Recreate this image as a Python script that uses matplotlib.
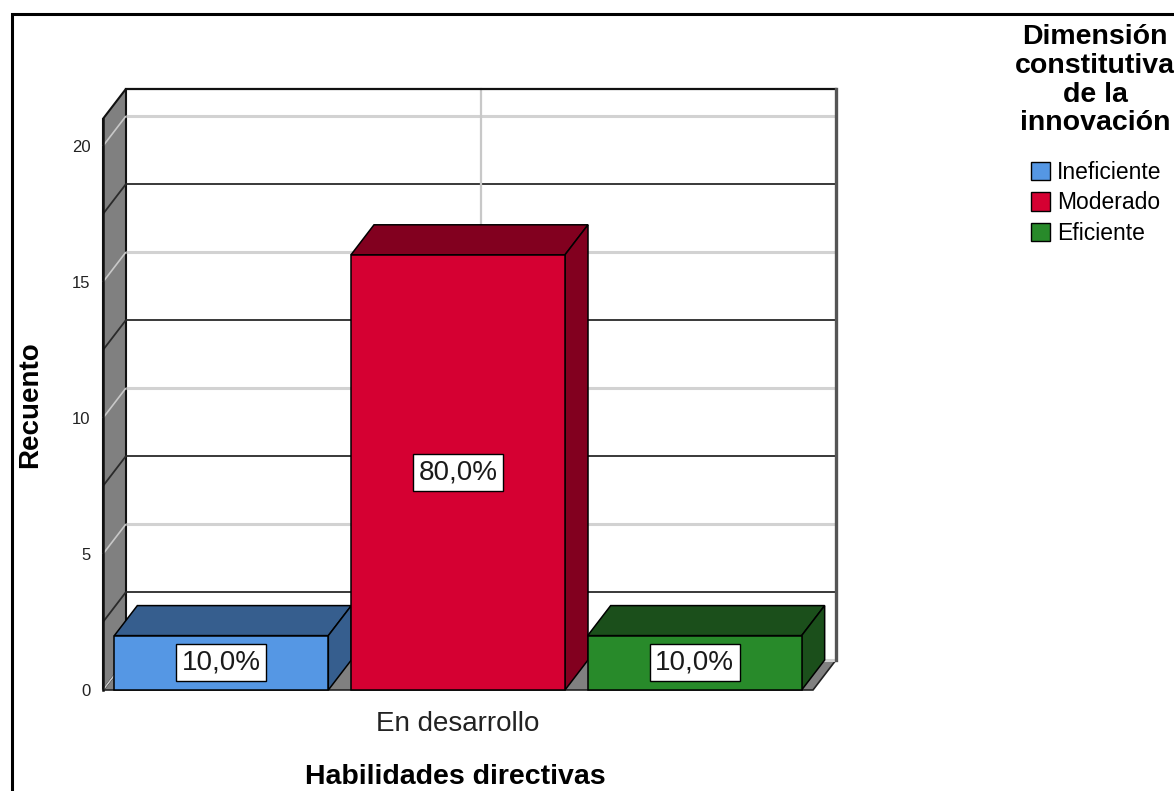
import matplotlib
matplotlib.use("Agg")
import matplotlib.pyplot as plt
from matplotlib.patches import Rectangle, Polygon, Patch

plt.rcParams['font.family'] = ['Liberation Sans', 'DejaVu Sans']

# datos del grafico
categoria = 'En desarrollo'
niveles = ['Ineficiente', 'Moderado', 'Eficiente']
recuentos = [2, 16, 2]
colores_frente = ['#5597E4', '#D50032', '#288A2A']
colores_sombra = ['#365E8E', '#82001F', '#1B4F1B']
ticks_y = [0, 5, 10, 15, 20]

W, H = 1174, 791
fig = plt.figure(figsize=(W / 100, H / 100), dpi=100)


def fx(px):
    return px / W


def fy(py):
    return (H - py) / H


# plano frontal del eje
ax = fig.add_axes([fx(103), fy(690), fx(813) - fx(103), fy(118.8) - fy(690)])
ymax = 21
ax.set_xlim(-1.5, 1.5)
ax.set_ylim(0, ymax)
for s in ax.spines.values():
    s.set_visible(False)
ax.patch.set_visible(False)

# profundidad 3D (unidades de datos)
dx = 23 / (710 / 3.0)
dy = 30 / (571.2 / ymax)
xL, xR = -1.5, 1.5

# pared del fondo
ax.add_patch(Polygon([(xL + dx, dy), (xR + dx, dy), (xR + dx, ymax + dy), (xL + dx, ymax + dy)],
                     closed=True, fc='white', ec='none', clip_on=False, zorder=1))
# suelo
ax.add_patch(Polygon([(xL, 0), (xR, 0), (xR + dx, dy), (xL + dx, dy)],
                     closed=True, fc='#808080', ec='#222222', lw=1.2, clip_on=False, zorder=1.5))
# pared lateral izquierda
ax.add_patch(Polygon([(xL, 0), (xL + dx, dy), (xL + dx, ymax + dy), (xL, ymax)],
                     closed=True, fc='#808080', ec='#111111', lw=1.5, clip_on=False, zorder=1.5))

# lineas de cuadricula: grises en los ticks, oscuras en los intermedios
for t in ticks_y:
    ax.plot([xL, xL + dx], [t, t + dy], color='#c8c8c8', lw=1.2,
            clip_on=False, zorder=2, solid_capstyle='butt')
    ax.plot([xL + dx, xR + dx], [t + dy, t + dy], color='#d2d2d2', lw=2.2,
            clip_on=False, zorder=2, solid_capstyle='butt')
for t in [2.5, 7.5, 12.5, 17.5]:
    ax.plot([xL, xL + dx, xR + dx], [t, t + dy, t + dy], color='#2a2a2a', lw=1.3,
            clip_on=False, zorder=2, solid_capstyle='butt')
ax.plot([0 + dx, 0 + dx], [dy, ymax + dy], color='#c8c8c8', lw=1.6, clip_on=False, zorder=2)

# bordes de la caja
ax.plot([xL + dx, xR + dx], [ymax + dy, ymax + dy], color='#111111', lw=1.6, clip_on=False, zorder=2.5)
ax.plot([xR + dx, xR + dx], [dy, ymax + dy], color='#555555', lw=2.4, clip_on=False, zorder=2.5)
ax.plot([xL, xL], [0, ymax], color='#111111', lw=1.8, clip_on=False, zorder=2.5)

# barras 3D
total = sum(recuentos)
ancho = 214 / (710 / 3.0)
for i, (v, c1, c2) in enumerate(zip(recuentos, colores_frente, colores_sombra)):
    pos = i - 1
    xl, xr = pos - ancho / 2, pos + ancho / 2
    ax.add_patch(Polygon([(xl, v), (xr, v), (xr + dx, v + dy), (xl + dx, v + dy)],
                         closed=True, fc=c2, ec='black', lw=1.1, clip_on=False, zorder=3))
    ax.add_patch(Polygon([(xr, 0), (xr + dx, dy), (xr + dx, v + dy), (xr, v)],
                         closed=True, fc=c2, ec='black', lw=1.1, clip_on=False, zorder=3))
    ax.add_patch(Rectangle((xl, 0), ancho, v, fc=c1, ec='black', lw=1.1, clip_on=False, zorder=3.5))
    pct = 100.0 * v / total
    ax.text(pos, v / 2, f'{pct:.1f}%'.replace('.', ','), ha='center', va='center',
            fontsize=20, color='#1a1a1a', zorder=5,
            bbox=dict(boxstyle='square,pad=0.2', fc='white', ec='black', lw=1.0))

# ejes y etiquetas
ax.set_yticks(ticks_y)
ax.set_yticklabels([str(t) for t in ticks_y], fontsize=12, color='#222222')
ax.set_xticks([0])
ax.set_xticklabels([categoria], fontsize=20, color='#222222')
ax.tick_params(axis='y', length=0, pad=9)
ax.tick_params(axis='x', length=0, pad=15)

fig.text(fx(30), fy(405), 'Recuento', rotation=90, ha='center', va='center',
         fontsize=20, fontweight='bold')
fig.text(fx(455), fy(777), 'Habilidades directivas', ha='center', va='center',
         fontsize=20.5, fontweight='bold')

# leyenda
fig.text(fx(1095), fy(24), 'Dimensión\nconstitutiva\nde la\ninnovación', ha='center', va='top',
         multialignment='center', fontsize=20.5, fontweight='bold', linespacing=1.14)
handles = [Patch(fc=c, ec='black', lw=1.0) for c in colores_frente]
fig.legend(handles, niveles, loc='upper left', bbox_to_anchor=(fx(1031), fy(161)),
           frameon=False, fontsize=16.5, handlelength=0.85, handleheight=0.85,
           handletextpad=0.3, labelspacing=0.32, borderpad=0, borderaxespad=0)

# marco exterior
fig.patches.append(Rectangle((fx(12), -0.05), 1.2, fy(14) + 0.05, transform=fig.transFigure,
                             fill=False, ec='black', lw=2.2, clip_on=False))

fig.savefig('out.png', dpi=100)
